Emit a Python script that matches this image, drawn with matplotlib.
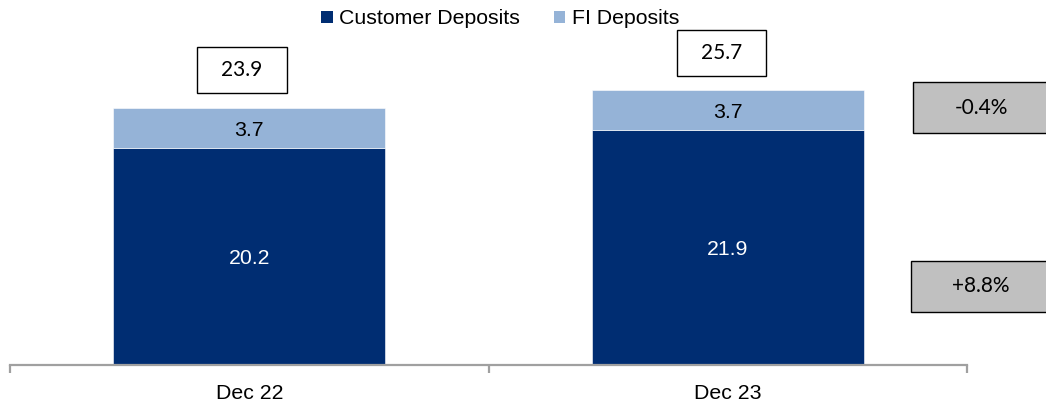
import matplotlib
matplotlib.use("Agg")
import matplotlib.pyplot as plt
from matplotlib.patches import Rectangle

categories = ["Dec 22", "Dec 23"]
customer_deposits = [20.2, 21.9]
fi_deposits = [3.7, 3.7]
total_labels = ["23.9", "25.7"]
change_labels = ["-0.4%", "+8.8%"]
series_names = ["Customer Deposits", "FI Deposits"]

dark = "#002D72"
light = "#95B3D7"
grey_box = "#C0C0C0"
axis_grey = "#A0A0A0"

W, H = 1046, 404
fig = plt.figure(figsize=(W / 100, H / 100), dpi=100)
plt.rcParams['font.family'] = ['Liberation Sans', 'DejaVu Sans']

ax = fig.add_axes([10 / W, (H - 365) / H, 957 / W, 365 / H])
x = list(range(len(categories)))
b1 = ax.bar(x, customer_deposits, width=0.568, color=dark, edgecolor="white", linewidth=0.4)
b2 = ax.bar(x, fi_deposits, bottom=customer_deposits, width=0.568, color=light,
            edgecolor="white", linewidth=0.4)

for xi, c, f in zip(x, customer_deposits, fi_deposits):
    ax.text(xi, c / 2, f"{c:.1f}", ha="center", va="center_baseline", color="white", fontsize=15.3)
    ax.text(xi, c + f / 2, f"{f:.1f}", ha="center", va="center_baseline", color="black", fontsize=15.3)

ax.set_xlim(-0.5, 1.5)
ax.set_ylim(0, 34.0)
for s in ["top", "right", "left"]:
    ax.spines[s].set_visible(False)
ax.spines["bottom"].set_color(axis_grey)
ax.spines["bottom"].set_linewidth(1.6)
ax.set_yticks([])
ax.set_xticks(x)
ax.set_xticklabels(categories, fontsize=15.3)
ax.tick_params(axis="x", which="major", length=0, pad=14)
ax.set_xticks([-0.5, 0.5, 1.5], minor=True)
ax.tick_params(axis="x", which="minor", length=6, width=1.6, color=axis_grey, direction="out")

# boxes (pixel coords: x0, y0_top, x1, y1_bottom)
def fig_box(x0, y0, x1, y1, text, face, fontsize=15):
    r = Rectangle((x0 / W, 1 - y1 / H), (x1 - x0) / W, (y1 - y0) / H,
                  transform=fig.transFigure, facecolor=face, edgecolor="black",
                  linewidth=1.0, clip_on=False)
    fig.add_artist(r)
    fig.text((x0 + x1) / 2 / W, 1 - (y0 + y1) / 2 / H, text, ha="center", va="center",
             fontsize=fontsize, family=["Lato", "DejaVu Sans"], color="black")

fig_box(197, 47, 287, 93, total_labels[0], "white")
fig_box(677, 30, 766, 76, total_labels[1], "white")
fig_box(913, 82, 1050, 133, change_labels[0], grey_box)
fig_box(911, 261, 1050, 312, change_labels[1], grey_box)

leg = fig.legend([b1, b2], series_names, loc="center", bbox_to_anchor=(500 / W, 1 - 19 / H),
                 ncol=2, frameon=False, fontsize=15.3, handlelength=0.55, handleheight=0.55,
                 handletextpad=0.3, columnspacing=1.6, borderaxespad=0, borderpad=0)
for h in leg.legend_handles:
    h.set_edgecolor("none")

fig.savefig("out.png", dpi=100)
